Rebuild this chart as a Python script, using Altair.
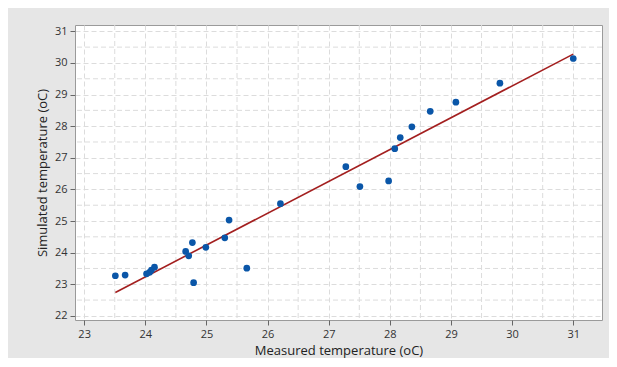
import altair as alt
import pandas as pd

measured = [23.51, 23.67, 24.02, 24.07, 24.10, 24.15, 24.66, 24.71, 24.77, 24.79,
            24.99, 25.30, 25.37, 25.66, 26.21, 27.28, 27.51, 27.98, 28.08, 28.17,
            28.36, 28.66, 29.08, 29.80, 31.00]
simulated = [23.27, 23.29, 23.33, 23.38, 23.45, 23.54, 24.04, 23.90, 24.32, 23.05,
             24.17, 24.47, 25.03, 23.51, 25.55, 26.72, 26.09, 26.27, 27.29, 27.64,
             27.98, 28.47, 28.76, 29.36, 30.14]
fit_x = [23.51, 31.00]
fit_y = [22.74, 30.28]

x_ticks = [23, 24, 25, 26, 27, 28, 29, 30, 31]
y_ticks = [22, 23, 24, 25, 26, 27, 28, 29, 30, 31]
x_minor = [23.5, 24.5, 25.5, 26.5, 27.5, 28.5, 29.5, 30.5]
y_minor = [22.5, 23.5, 24.5, 25.5, 26.5, 27.5, 28.5, 29.5, 30.5]

pts = pd.DataFrame({"m": measured, "s": simulated})
fit = pd.DataFrame({"m": fit_x, "s": fit_y})
xm = pd.DataFrame({"m": x_minor})
ym = pd.DataFrame({"s": y_minor})

font = "Open Sans"
grid_color = "#dcdcdc"

xscale = alt.Scale(domain=[22.85, 31.47], nice=False, zero=False)
yscale = alt.Scale(domain=[21.87, 31.2], nice=False, zero=False)


def make_axis(vals, title):
    return alt.Axis(values=vals, title=title, format="d",
                    tickSize=5, tickColor="#666",
                    domain=False, grid=True, gridDash=[5, 3], gridColor=grid_color,
                    labelFontSize=11, labelColor="#333", labelFont=font, labelPadding=3,
                    labelOverlap=False,
                    titleFont=font, titleFontSize=13, titleFontWeight="normal",
                    titleColor="#222", titlePadding=5)


xenc = alt.X("m:Q", scale=xscale, axis=make_axis(x_ticks, "Measured temperature (oC)"))
yenc = alt.Y("s:Q", scale=yscale, axis=make_axis(y_ticks, "Simulated temperature (oC)"))

vgrid = alt.Chart(xm).mark_rule(color=grid_color, strokeDash=[5, 3], strokeWidth=1).encode(
    x=xenc
)
hgrid = alt.Chart(ym).mark_rule(color=grid_color, strokeDash=[5, 3], strokeWidth=1).encode(
    y=yenc
)
points = alt.Chart(pts).mark_circle(size=45, color="#0a56a8", opacity=1).encode(
    x=xenc, y=yenc,
)
line = alt.Chart(fit).mark_line(color="#a31f1f", strokeWidth=1.6).encode(
    x=xenc, y=yenc,
)

chart = alt.layer(vgrid, hgrid, line, points).properties(
    width=527, height=295,
    background="#e6e6e6",
    padding={"left": 67, "top": 17, "right": 7, "bottom": 38},
    autosize=alt.AutoSizeParams(type="none"),
).configure_view(fill="white", stroke="#9a9a9a", strokeWidth=1)

chart.save("out.html", embed_options={"renderer": "svg", "actions": False})
